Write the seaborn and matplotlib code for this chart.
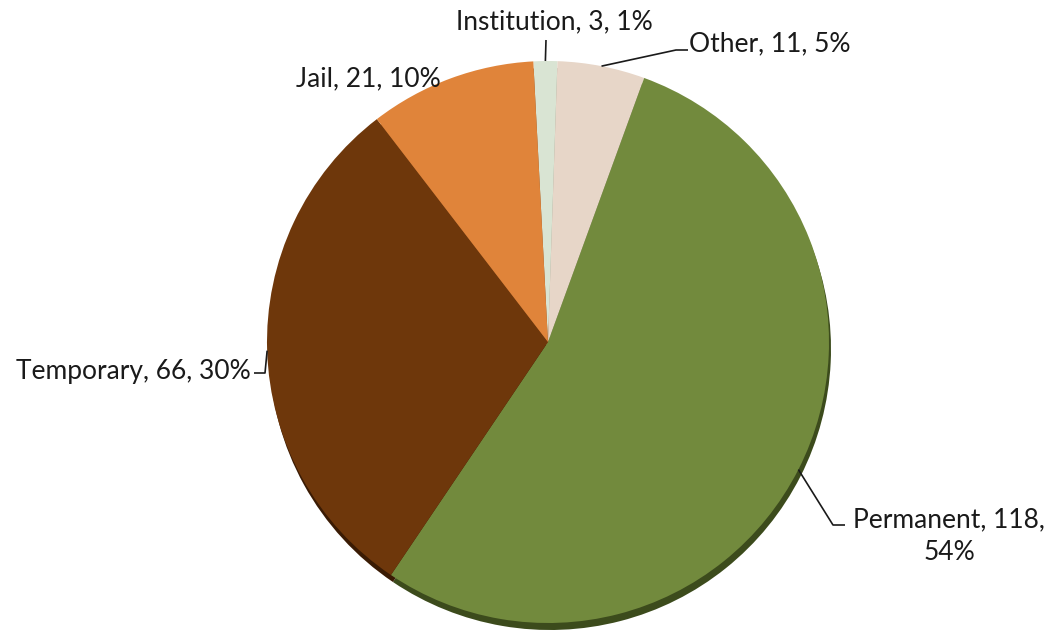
import numpy as np
import matplotlib
matplotlib.use("Agg")
import matplotlib.pyplot as plt
import seaborn as sns

sns.set_theme(style="white")
plt.rcParams['font.family'] = ['Lato', 'DejaVu Sans']

# datos del gráfico (sentido horario desde arriba)
categories = ["Institution", "Other", "Permanent", "Temporary", "Jail"]
counts = [3, 11, 118, 66, 21]
percents = ["1%", "5%", "54%", "30%", "10%"]
colors = ["#D9E4D3", "#E7D6C8", "#728A3D", "#6E370B", "#E0843A"]
shadow_colors = ["#9AA592", "#A89A8E", "#3C4B1C", "#3A1B04", "#8A4E1F"]

W, H = 1052, 630
CX, CY, R = 548, 342, 281  # centro y radio del pastel en pixeles


def px(x, y):
    # pixel de la imagen -> coordenadas de datos
    return (x - CX) / R, (CY - y) / R


fig = plt.figure(figsize=(W / 100, H / 100), dpi=100)
ax = fig.add_axes([0, 0, 1, 1])

# sombra inferior (efecto 3D)
ax.pie(counts, colors=shadow_colors, startangle=93, counterclock=False,
       radius=1.0, center=(2 / R, -7 / R),
       wedgeprops=dict(linewidth=0))
wedges, _ = ax.pie(counts, colors=colors, startangle=93, counterclock=False,
                   radius=1.0, center=(0, 0),
                   wedgeprops=dict(linewidth=0))

# ángulos medios de cada sector
total = sum(counts)
angles = []
start = 93
for c in counts:
    span = c / total * 360
    angles.append(np.deg2rad(start - span / 2))
    start -= span

# posición del texto (pixeles), alineación y codo de la línea guía
layout = {
    "Institution": dict(text=(554, 22), ha="center", elbow=None, end=(546, 40)),
    "Other": dict(text=(689, 44), ha="left", elbow=(676, 50), end=(688, 50)),
    "Permanent": dict(text=(949, 536), ha="center", elbow=(833, 525), end=(845, 525)),
    "Temporary": dict(text=(251, 371), ha="right", elbow=(265, 373), end=(254, 373)),
    "Jail": dict(text=(441, 79), ha="right", elbow=None, end=None),
}

for cat, n, pct, ang in zip(categories, counts, percents, angles):
    lay = layout[cat]
    label = f"{cat}, {n}, {pct}"
    if cat == "Permanent":
        label = f"{cat}, {n},\n{pct}"
    tx, ty = px(*lay["text"])
    ax.text(tx, ty, label, ha=lay["ha"], va="center", fontsize=19,
            color="#1a1a1a", linespacing=1.35)
    if lay["end"] is not None:
        pts = [(np.cos(ang), np.sin(ang))]
        if lay["elbow"] is not None:
            pts.append(px(*lay["elbow"]))
        pts.append(px(*lay["end"]))
        xs, ys = zip(*pts)
        ax.plot(xs, ys, color="#1a1a1a", linewidth=1.2, solid_capstyle="butt")

ax.set_xlim(-CX / R, (W - CX) / R)
ax.set_ylim(-(H - CY) / R, CY / R)
ax.set_aspect('auto')
ax.axis('off')

fig.savefig("out.png", dpi=100, facecolor="white")
